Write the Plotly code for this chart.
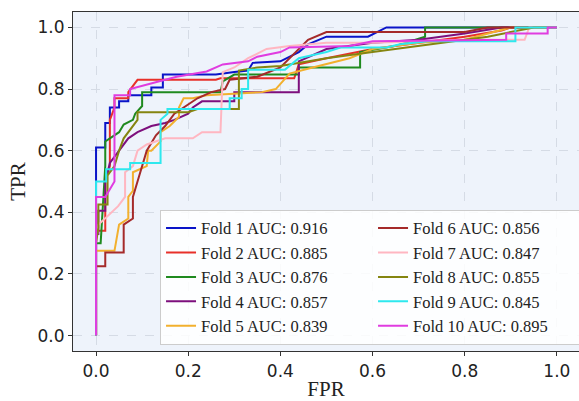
import plotly.graph_objects as go

fold_names = ["Fold 1", "Fold 2", "Fold 3", "Fold 4", "Fold 5",
              "Fold 6", "Fold 7", "Fold 8", "Fold 9", "Fold 10"]
auc_values = [0.916, 0.885, 0.876, 0.857, 0.839, 0.856, 0.847, 0.855, 0.845, 0.895]
colors = ["#0a14c8", "#e8302a", "#1f8a1f", "#7d0f7d", "#f2b02e",
          "#a52a2a", "#ffb6c1", "#858510", "#2ee8ee", "#e03ce0"]

fpr_1 = [0, 0, 0.02, 0.02, 0.03, 0.03, 0.05, 0.05, 0.07, 0.07, 0.1, 0.12, 0.12, 0.145, 0.145, 0.26, 0.3, 0.33, 0.34, 0.4, 0.44, 0.46, 0.5, 0.59, 0.63, 1]
tpr_1 = [0, 0.61, 0.61, 0.69, 0.69, 0.74, 0.74, 0.76, 0.76, 0.78, 0.78, 0.78, 0.805, 0.805, 0.847, 0.847, 0.855, 0.86, 0.885, 0.89, 0.92, 0.945, 0.97, 0.97, 1.0, 1]

fpr_2 = [0, 0, 0.02, 0.02, 0.03, 0.03, 0.04, 0.04, 0.07, 0.07, 0.09, 0.26, 0.27, 0.43, 0.44, 0.5, 0.6, 0.7, 0.8, 0.88, 0.9, 1]
tpr_2 = [0, 0.34, 0.34, 0.5, 0.55, 0.7, 0.74, 0.77, 0.77, 0.79, 0.83, 0.83, 0.835, 0.835, 0.88, 0.9, 0.93, 0.95, 0.97, 0.99, 1.0, 1]

fpr_3 = [0, 0, 0.01, 0.02, 0.02, 0.05, 0.06, 0.08, 0.085, 0.1, 0.1, 0.27, 0.275, 0.3, 0.44, 0.44, 0.573, 0.573, 0.65, 0.714, 0.714, 1]
tpr_3 = [0, 0.3, 0.3, 0.55, 0.63, 0.66, 0.685, 0.7, 0.72, 0.745, 0.79, 0.79, 0.825, 0.847, 0.847, 0.87, 0.87, 0.92, 0.94, 0.97, 1.0, 1]

fpr_4 = [0, 0, 0.005, 0.005, 0.02, 0.02, 0.03, 0.05, 0.07, 0.09, 0.12, 0.15, 0.17, 0.2, 0.21, 0.23, 0.3, 0.3, 0.44, 0.44, 0.5, 0.6, 0.7, 0.8, 0.88, 1]
tpr_4 = [0, 0.33, 0.33, 0.405, 0.405, 0.5, 0.56, 0.6, 0.64, 0.66, 0.68, 0.69, 0.70, 0.72, 0.74, 0.76, 0.76, 0.79, 0.79, 0.89, 0.93, 0.95, 0.96, 0.98, 1.0, 1]

fpr_5 = [0, 0, 0.04, 0.05, 0.07, 0.07, 0.08, 0.08, 0.11, 0.113, 0.12, 0.14, 0.14, 0.16, 0.18, 0.18, 0.19, 0.21, 0.24, 0.36, 0.39, 0.42, 0.47, 0.55, 0.6, 0.7, 0.8, 0.85, 0.9, 1]
tpr_5 = [0, 0.275, 0.275, 0.36, 0.38, 0.45, 0.47, 0.53, 0.55, 0.6, 0.6, 0.63, 0.66, 0.68, 0.71, 0.74, 0.77, 0.77, 0.78, 0.79, 0.8, 0.85, 0.87, 0.9, 0.93, 0.95, 0.96, 0.98, 1.0, 1]

fpr_6 = [0, 0, 0.02, 0.02, 0.06, 0.06, 0.08, 0.08, 0.09, 0.1, 0.11, 0.13, 0.15, 0.17, 0.2, 0.22, 0.25, 0.28, 0.29, 0.35, 0.4, 0.46, 0.5, 0.8, 0.85, 1]
tpr_6 = [0, 0.225, 0.225, 0.27, 0.27, 0.36, 0.38, 0.45, 0.5, 0.55, 0.6, 0.65, 0.68, 0.72, 0.75, 0.77, 0.79, 0.8, 0.83, 0.84, 0.87, 0.96, 0.985, 0.985, 1.0, 1]

fpr_7 = [0, 0, 0.005, 0.048, 0.063, 0.063, 0.08, 0.09, 0.11, 0.15, 0.21, 0.23, 0.27, 0.275, 0.3, 0.33, 0.37, 0.42, 0.5, 0.6, 0.7, 0.8, 0.93, 0.94, 1]
tpr_7 = [0, 0.3, 0.36, 0.42, 0.45, 0.53, 0.55, 0.6, 0.62, 0.64, 0.64, 0.66, 0.66, 0.855, 0.87, 0.9, 0.93, 0.94, 0.95, 0.95, 0.955, 0.96, 0.96, 1.0, 1]

fpr_8 = [0, 0, 0.005, 0.005, 0.025, 0.025, 0.04, 0.05, 0.06, 0.07, 0.08, 0.09, 0.09, 0.2, 0.22, 0.31, 0.31, 0.35, 0.4, 0.5, 0.6, 0.7, 0.8, 0.85, 0.95, 1]
tpr_8 = [0, 0.3, 0.35, 0.425, 0.425, 0.52, 0.55, 0.6, 0.64, 0.66, 0.68, 0.7, 0.725, 0.725, 0.735, 0.735, 0.86, 0.87, 0.875, 0.9, 0.92, 0.94, 0.96, 0.97, 1.0, 1]

fpr_9 = [0, 0, 0.022, 0.022, 0.074, 0.074, 0.14, 0.14, 0.155, 0.155, 0.29, 0.29, 0.316, 0.316, 0.33, 0.33, 0.41, 0.44, 0.5, 0.53, 0.63, 0.66, 0.72, 0.91, 0.91, 1]
tpr_9 = [0, 0.5, 0.5, 0.54, 0.54, 0.56, 0.56, 0.7, 0.72, 0.735, 0.735, 0.77, 0.77, 0.8, 0.8, 0.863, 0.863, 0.9, 0.92, 0.935, 0.935, 0.945, 0.955, 0.955, 1.0, 1]

fpr_10 = [0, 0, 0.02, 0.04, 0.04, 0.074, 0.074, 0.1, 0.13, 0.15, 0.175, 0.24, 0.275, 0.33, 0.35, 0.4, 0.42, 0.55, 0.6, 0.89, 0.89, 0.98, 0.98, 1]
tpr_10 = [0, 0.45, 0.45, 0.5, 0.78, 0.78, 0.8, 0.81, 0.82, 0.83, 0.84, 0.857, 0.88, 0.89, 0.905, 0.92, 0.935, 0.94, 0.955, 0.96, 0.98, 0.98, 1.0, 1]

fpr_all = [fpr_1, fpr_2, fpr_3, fpr_4, fpr_5, fpr_6, fpr_7, fpr_8, fpr_9, fpr_10]
tpr_all = [tpr_1, tpr_2, tpr_3, tpr_4, tpr_5, tpr_6, tpr_7, tpr_8, tpr_9, tpr_10]

x_ticks = [0.0, 0.2, 0.4, 0.6, 0.8, 1.0]
y_ticks = [0.0, 0.2, 0.4, 0.6, 0.8, 1.0]

fig = go.Figure()
for i in range(10):
    rank = 2 * i + 1 if i < 5 else 2 * (i - 5) + 2
    fig.add_trace(go.Scatter(
        x=fpr_all[i], y=tpr_all[i], mode="lines",
        name=f"{fold_names[i]} AUC: {auc_values[i]:.3f}",
        line=dict(color=colors[i], width=2),
        legendrank=rank,
    ))

axis_common = dict(
    showline=True, linecolor="#333333", linewidth=1.2,
    ticks="outside", ticklen=4, tickcolor="#333333",
    showgrid=True, gridcolor="#d5dbe5", griddash="dash", gridwidth=1,
    zeroline=False,
    tickfont=dict(family="DejaVu Sans", size=17, color="#222222"),
    tickformat=".1f",
)

fig.update_layout(
    width=579, height=401,
    margin=dict(l=73, r=0, t=12, b=50, autoexpand=False),
    paper_bgcolor="white",
    plot_bgcolor="#eef3fb",
    xaxis=dict(axis_common, mirror=True, range=[-0.05, 1.048], tickvals=x_ticks,
               title=dict(text="FPR", font=dict(family="Liberation Serif", size=21, color="#222222"), standoff=8)),
    yaxis=dict(axis_common, mirror=False, range=[-0.05, 1.05], tickvals=y_ticks,
               title=dict(text="TPR", font=dict(family="Liberation Serif", size=21, color="#222222"), standoff=6)),
    legend=dict(
        orientation="h", x=0.172, y=0.4166, xanchor="left", yanchor="top",
        entrywidth=167, entrywidthmode="pixels",
        bgcolor="rgba(255,255,255,0.85)", bordercolor="#cccccc", borderwidth=1,
        font=dict(family="Liberation Serif", size=16.5, color="#222222"),
        traceorder="normal",
    ),
    showlegend=True,
)

fig.write_html("out.html")
